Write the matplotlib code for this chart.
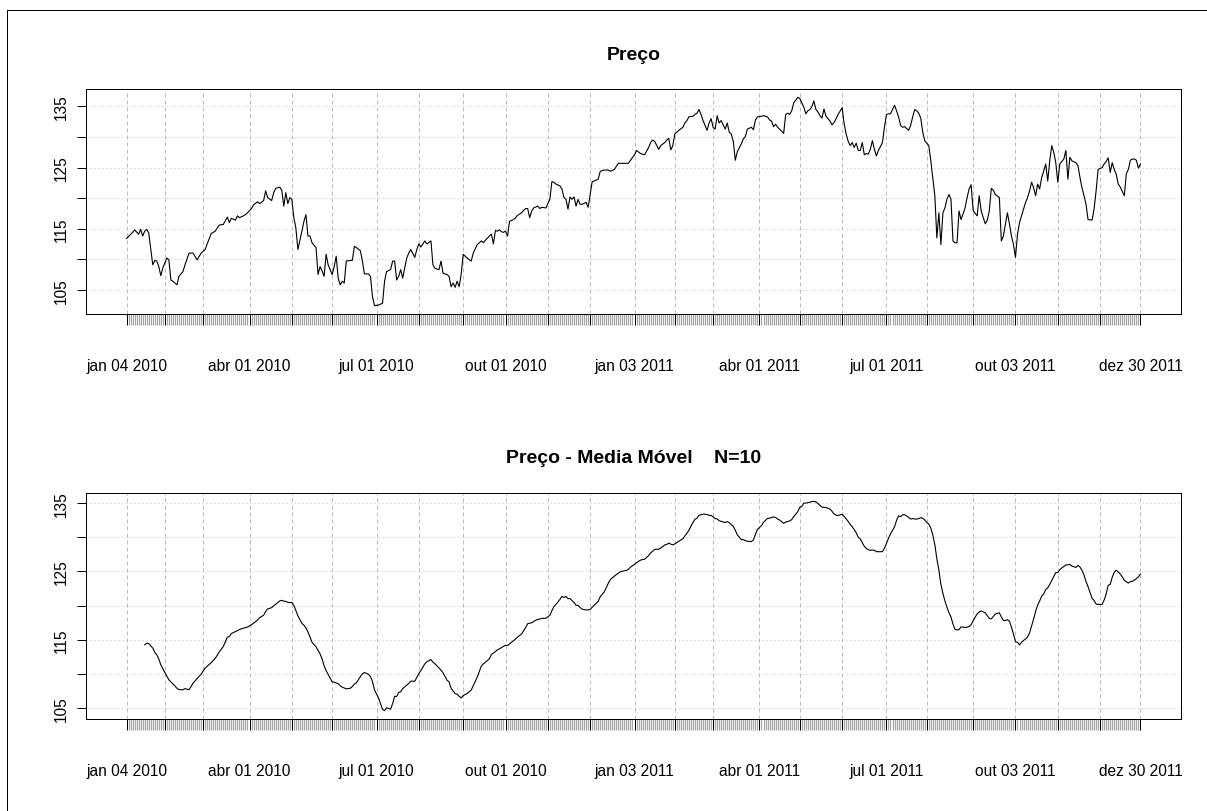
import numpy as np
import pandas as pd
import matplotlib
matplotlib.use("Agg")
import matplotlib.pyplot as plt
from matplotlib.lines import Line2D

# ---------------- data ----------------
holidays = ["2010-01-18", "2010-02-15", "2010-04-02", "2010-05-31", "2010-07-05", "2010-09-06",
            "2010-11-25", "2010-12-24", "2011-01-17", "2011-02-21", "2011-04-22", "2011-05-30",
            "2011-07-04", "2011-09-05", "2011-11-24", "2011-12-26"]

# trading-day index of each reading, and the price
price_day = [
    0, 3, 4, 6, 7, 8, 9, 10, 11, 13, 14, 15, 16, 17, 18, 20, 21, 22, 23, 25, 26, 28, 29, 31, 33, 35, 37, 39, 40,
    42, 44, 46, 48, 50, 51, 52, 54, 55, 56, 58, 59, 60, 62, 63, 65, 66, 68, 69, 70, 72, 73, 74, 76, 77, 78, 79,
    80, 81, 82, 83, 84, 85, 87, 88, 89, 90, 91, 92, 94, 95, 96, 97, 98, 99, 100,
    102, 103, 104, 105, 106, 107, 108, 109, 111, 112, 113, 114, 116, 117, 118, 120, 121, 122, 123, 125, 127, 128,
    129, 131, 132, 133, 134, 135, 136, 137, 138, 139, 140, 141, 143, 144, 145, 146, 148, 149, 151, 152, 153, 155,
    156, 157, 159, 160, 161, 162, 163, 164, 165, 166, 167, 169, 171, 172, 174, 176, 177, 178, 180, 181, 182, 183,
    184, 185, 186, 187, 188, 189, 190, 192, 193, 194, 196, 197, 198, 199, 200, 201, 202,
    204, 205, 206, 208, 210, 211, 212, 213, 215, 216, 217, 218, 219, 220, 221, 222, 223, 224, 225, 226, 228, 229,
    230, 231, 232, 234, 235, 237, 239, 240, 242, 244, 245, 248, 249, 250, 252, 253, 255, 256, 257, 259, 260, 261,
    262, 264, 265, 267, 268, 269, 270, 271, 272, 274, 276, 277, 278, 279, 281, 282, 283, 284, 285, 286, 288, 289,
    290, 291, 292, 293, 294, 295, 297, 298, 299, 300, 301, 302, 303,
    305, 306, 307, 308, 310, 311, 312, 313, 315, 316, 318, 319, 320, 321, 322, 323, 324, 326, 327, 328, 329, 330,
    331, 333, 334, 335, 336, 337, 338, 339, 340, 341, 342, 343, 344, 345, 346, 347, 349, 350, 351, 352, 353, 355,
    356, 357, 358, 359, 360, 361, 362, 363, 364, 365, 366, 367, 368, 369, 370, 371, 372, 373, 375, 376, 377, 378,
    379, 381, 382, 383, 384, 385, 386, 388, 389, 390, 391, 392, 393, 394, 395, 396, 397, 398, 399, 400, 401, 402,
    403, 404, 405, 406, 407, 408, 409, 410, 411, 412,
    413, 414, 416, 417, 418, 419, 420, 421, 422, 423, 424, 426, 427, 428, 429, 430, 431, 433, 434, 435, 436, 437,
    438, 439, 440, 441, 442, 443, 444, 446, 447, 448, 449, 450, 451, 452, 453, 454, 455, 456, 457, 458, 459, 460,
    461, 462, 463, 464, 465, 466, 467, 468, 469, 471, 472, 473, 474, 475, 476, 477, 479, 480, 481, 482, 484, 485,
    486, 487, 488, 489, 490, 491, 492, 493, 494, 495, 496, 497, 498, 499, 500, 501, 502, 503,
]
price = [
    113.4, 114.4, 114.8, 114.1, 114.9, 113.8, 114.6, 114.9, 114.3, 109.1, 109.8, 109.7, 108.8, 107.3, 108.6,
    110.2, 109.9, 106.6, 106.4, 105.8, 107.2, 108.0, 109.1, 111.0, 111.0, 109.9, 111.0, 111.6, 112.5, 114.2,
    114.6, 115.6, 115.7, 116.9, 116.0, 116.7, 116.4, 117.1, 116.8, 117.1, 117.3, 117.6, 118.3, 118.9, 119.4,
    119.1, 119.6, 121.2, 120.1, 119.6, 120.9, 121.6, 121.8, 121.3, 118.7, 120.9, 119.1, 120.1, 119.8, 116.8,
    115.1, 111.6, 114.6, 116.2, 117.3, 113.8, 113.8, 112.7, 111.9, 107.5, 108.8, 108.1, 107.2, 110.8, 109.1,
    107.5, 108.8, 110.5, 106.9, 105.8, 106.4, 106.1, 109.7, 109.8, 109.8, 112.1, 111.9, 111.4, 109.7, 107.6,
    107.6, 107.2, 103.9, 102.4, 102.5, 102.8, 106.4, 108.0, 108.3, 109.7, 109.7, 106.6, 107.2, 108.3, 106.9,
    108.6, 110.2, 111.0, 111.6, 110.3, 111.6, 112.5, 112.0, 113.0, 112.5, 113.0, 109.1, 108.5, 108.3, 109.7,
    107.7, 107.5, 107.2, 105.5, 106.1, 105.4, 106.4, 105.5, 107.5, 110.8, 110.2, 109.7, 111.0, 112.4, 113.0,
    112.7, 113.1, 113.8, 114.1, 112.5, 114.7, 114.6, 114.8, 114.5, 114.4, 114.6, 113.8, 116.2, 116.5, 116.8,
    117.2, 117.6, 118.0, 118.3, 118.3, 116.8, 117.9, 118.4,
    118.7, 118.3, 118.5, 118.4, 119.8, 122.7, 122.6, 122.3, 122.0, 121.5, 120.1, 119.8, 118.2, 120.2, 119.8,
    120.2, 118.7, 119.8, 119.0, 119.0, 119.3, 118.5, 120.6, 122.7, 122.8, 123.1, 124.4, 124.6, 124.6, 124.4,
    124.7, 125.7, 125.7, 125.7, 125.7, 126.2, 127.1, 127.8, 127.3, 127.2, 127.1, 128.3, 129.1, 129.5, 129.3,
    128.0, 128.6, 129.1, 129.5, 129.8, 127.9, 128.6, 130.5, 131.1, 131.6, 132.3, 132.7, 133.3, 133.4, 133.7,
    133.9, 134.5, 133.7, 132.7, 131.1, 132.3, 133.0, 131.6, 131.3, 133.5, 132.3, 132.7, 131.3, 132.3, 130.8,
    130.5, 129.3, 126.2, 127.6,
    128.9, 129.7, 130.1, 131.3, 131.6, 131.2, 132.8, 133.3, 133.4, 133.5, 133.3, 132.8, 132.6, 131.7, 132.1,
    131.6, 131.3, 130.6, 133.7, 133.9, 133.7, 134.3, 135.6, 136.5, 136.3, 135.6, 134.9, 133.8, 134.3, 134.5,
    135.0, 135.9, 134.5, 134.1, 133.5, 133.1, 134.6, 133.4, 132.6, 132.0, 132.4, 133.0, 133.7, 134.8, 132.2,
    130.5, 129.3, 128.6, 129.1, 128.3, 129.0, 127.8, 127.8, 129.1, 127.1, 127.3, 127.2, 128.0, 129.4, 128.0,
    126.9, 127.8, 129.1, 131.6, 133.7, 133.8, 133.8, 135.2, 134.3, 133.3, 131.9, 131.6, 131.7, 131.1, 131.9,
    133.3, 134.5, 134.3, 133.9, 133.1, 130.8, 129.4, 129.0, 128.6, 126.1, 123.2, 120.4, 113.5, 117.6, 112.4,
    117.6, 118.4, 119.8, 120.6, 119.8, 113.0, 112.7, 112.7,
    117.9, 116.5, 118.4, 120.1, 121.5, 122.2, 118.0, 117.5, 117.1, 120.4, 117.9, 115.8, 116.4, 117.9, 121.6,
    121.3, 120.6, 120.1, 113.0, 113.8, 115.7, 117.6, 115.8, 113.8, 112.4, 110.3, 114.1, 116.0, 117.1, 119.3,
    120.1, 121.2, 122.6, 121.7, 120.4, 122.3, 121.5, 123.4, 124.4, 125.6, 122.8, 126.1, 128.6, 127.5, 125.8,
    122.6, 125.6, 126.0, 126.4, 127.8, 123.1, 126.7, 126.1, 125.8, 125.3, 123.4, 121.7, 120.4, 119.0, 116.5,
    116.4, 118.2, 121.2, 124.7, 125.0, 125.6, 126.0, 126.6, 124.2, 125.8, 124.7, 123.9, 122.3, 121.8, 121.1,
    120.4, 124.0, 124.7, 126.2, 126.4, 126.4, 126.2, 124.9, 125.6,
]
assert len(price_day) == len(price)

ma_window = 10
label_dates = ["2010-01-04", "2010-04-01", "2010-07-01", "2010-10-01", "2011-01-03",
               "2011-04-01", "2011-07-01", "2011-10-03", "2011-12-30"]
label_text = ["jan 04 2010", "abr 01 2010", "jul 01 2010", "out 01 2010", "jan 03 2011",
              "abr 01 2011", "jul 01 2011", "out 03 2011", "dez 30 2011"]
y_ticks = [105, 110, 115, 120, 125, 130, 135]
y_labels = ["105", "", "115", "", "125", "", "135"]

titles = ["Preço", "Preço - Media Móvel    N=10"]

# ---------------- derived ----------------
dates = pd.bdate_range("2010-01-04", "2011-12-30", freq="C", holidays=holidays)
n = len(dates)
pday = np.array(price_day)
pval = np.array(price)
ma_day = pday[pday >= ma_window - 1]
ma_val = np.array([pval[(pday > d - ma_window) & (pday <= d)].mean() for d in ma_day])

ser = pd.Series(np.arange(n), index=dates)
month_pos = list(ser.groupby([dates.year, dates.month]).first().values) + [n - 1]
label_pos = [dates.get_loc(pd.Timestamp(d)) for d in label_dates]
major_labels = [label_text[label_pos.index(p)] if p in label_pos else "" for p in month_pos]

# ---------------- figure ----------------
W, H = 1207, 812
fig = plt.figure(figsize=(W / 100, H / 100), dpi=100)
plt.rcParams['font.family'] = ['Liberation Sans', 'DejaVu Sans']


def rect(l, t, r, b):
    return [l / W, 1 - b / H, (r - l) / W, (b - t) / H]


PX = 0.72
panels = [(rect(86, 90, 1181, 315), pday, pval, 55),
          (rect(86, 494, 1181, 720), ma_day, ma_val, 459)]

for (r, xs, ys, ty), title in zip(panels, titles):
    ax = fig.add_axes(r)
    lo, hi = ys.min(), ys.max()
    pad = 0.04 * (hi - lo)
    ax.set_ylim(lo - pad, hi + pad)
    ax.set_xlim(-0.04 * (n - 1), (n - 1) * 1.04)
    for yv in y_ticks:
        ax.axhline(yv, color='#c0c0c0', lw=PX, linestyle=(0, (1, 3)), zorder=1)
    for xv in month_pos:
        ax.axvline(xv, color='#bcbcbc', lw=PX, linestyle=(0, (4, 3)), zorder=1)
    ax.plot(xs, ys, color='black', lw=0.8, zorder=3)
    for s in ax.spines.values():
        s.set_linewidth(PX)
        s.set_color('black')
    ax.set_yticks(y_ticks)
    ax.set_yticklabels(y_labels, rotation=90, va='center')
    ax.tick_params(axis='y', length=6.5, width=PX, pad=6, labelsize=11.2, colors='black')
    ax.set_xticks(month_pos)
    ax.set_xticklabels(major_labels)
    ax.set_xticks(range(n), minor=True)
    ax.tick_params(axis='x', which='major', length=8, width=PX, pad=24, labelsize=11.2, color='black')
    ax.tick_params(axis='x', which='minor', length=8, width=0.9, color='#a8a8a8')
    fig.text(633.5 / W, 1 - ty / H, title, ha='center', va='center', fontsize=14, fontweight='bold')

fig.add_artist(Line2D([7 / W, 1], [1 - 11 / H, 1 - 11 / H], transform=fig.transFigure, color='black', lw=PX))
fig.add_artist(Line2D([7 / W, 7 / W], [1 - 11 / H, 0], transform=fig.transFigure, color='black', lw=PX))

fig.savefig("out.png", dpi=100)
